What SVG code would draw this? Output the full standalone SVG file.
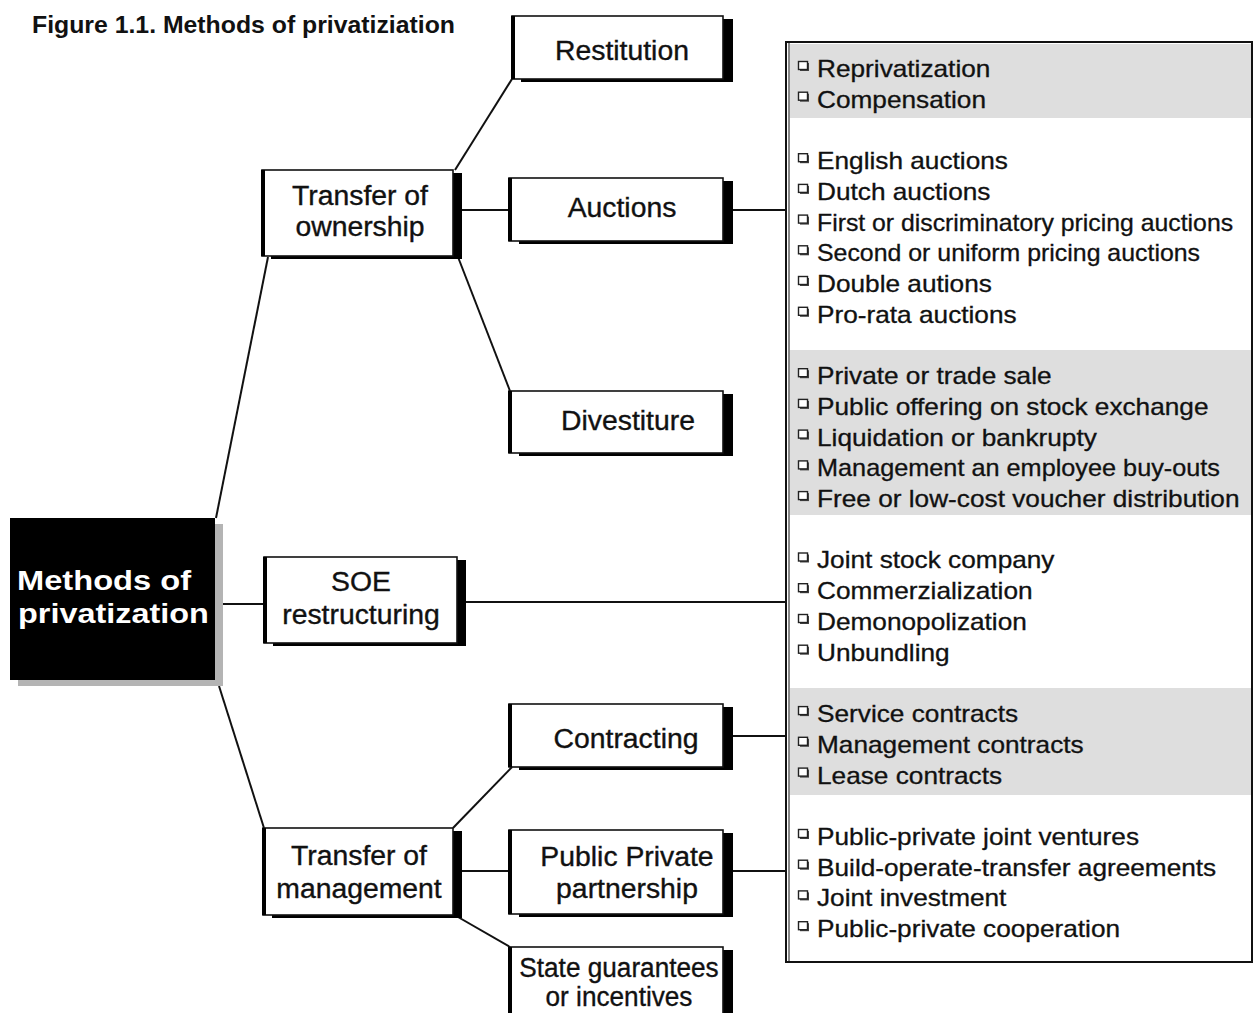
<svg xmlns="http://www.w3.org/2000/svg" xmlns:xlink="http://www.w3.org/1999/xlink" width="1256" height="1013" viewBox="0 0 1256 1013">
<defs>
<style>
text{font-family:"Liberation Sans",Arial,Helvetica,sans-serif;fill:#111}
.title{font-size:24.8px;font-weight:bold}
.root{font-size:27px;font-weight:bold;fill:#fff}
.nt{font-size:27px;text-anchor:middle;stroke:#111;stroke-width:0.35}
.it{font-size:23px;stroke:#111;stroke-width:0.3}
.box{fill:#fff;stroke:#111;stroke-width:1.6}
.sh{fill:#000}
.bar{fill:#000}
.band{fill:#dedede}
.conn line{stroke:#111;stroke-width:2}
.bul{fill:#fff;stroke:#222;stroke-width:1.4}
</style>
<g id="bullet"><rect x="1" y="1" width="9" height="8" fill="#444"/><rect class="bul" x="-0.5" y="-0.5" width="9" height="8"/></g>
</defs>
<rect width="1256" height="1013" fill="#fff"/>
<text class="title" x="32" y="33">Figure 1.1. Methods of privatiziation</text>

<g id="connectors" class="conn">
<line x1="216" y1="518" x2="268" y2="257"/>
<line x1="223" y1="604" x2="264" y2="604"/>
<line x1="219" y1="686" x2="264" y2="828"/>
<line x1="455" y1="170" x2="512" y2="79"/>
<line x1="461" y1="210" x2="509" y2="210"/>
<line x1="458" y1="257" x2="510" y2="391"/>
<line x1="733" y1="210" x2="786" y2="210"/>
<line x1="465" y1="602" x2="786" y2="602"/>
<line x1="453" y1="828" x2="512" y2="767"/>
<line x1="461" y1="871" x2="509" y2="871"/>
<line x1="458" y1="917" x2="510" y2="947"/>
<line x1="733" y1="736" x2="786" y2="736"/>
<line x1="733" y1="871" x2="786" y2="871"/>
</g>

<g id="root">
<rect x="18" y="524" width="205" height="162" fill="#b4b4b4"/>
<rect x="10" y="518" width="205" height="162" fill="#000"/>
<text class="root" transform="translate(17,590) scale(1.21,1)">Methods of</text>
<text class="root" transform="translate(18,623) scale(1.2,1)">privatization</text>
</g>

<g id="transfer-ownership">
<rect class="sh" x="271" y="173" width="191" height="86"/>
<rect class="box" x="262" y="170" width="191" height="86"/>
<rect class="bar" x="261" y="170" width="4" height="86"/>
<text class="nt" transform="translate(360,205) scale(1.05,1)">Transfer of</text>
<text class="nt" transform="translate(360,236) scale(1.05,1)">ownership</text>
</g>

<g id="soe">
<rect class="sh" x="273" y="560" width="193" height="86"/>
<rect class="box" x="264" y="557" width="193" height="86"/>
<rect class="bar" x="263" y="557" width="4" height="86"/>
<text class="nt" transform="translate(361,591) scale(1.05,1)">SOE</text>
<text class="nt" transform="translate(361,624) scale(1.05,1)">restructuring</text>
</g>

<g id="transfer-management">
<rect class="sh" x="272" y="831" width="190" height="87"/>
<rect class="box" x="263" y="828" width="190" height="87"/>
<rect class="bar" x="262" y="828" width="4" height="87"/>
<text class="nt" transform="translate(359,865) scale(1.05,1)">Transfer of</text>
<text class="nt" transform="translate(359,898) scale(1.05,1)">management</text>
</g>

<g id="restitution">
<rect class="sh" x="521" y="19" width="212" height="63"/>
<rect class="box" x="512" y="16" width="211" height="63"/>
<rect class="bar" x="511" y="16" width="4" height="63"/>
<text class="nt" transform="translate(622,60) scale(1.05,1)">Restitution</text>
</g>

<g id="auctions">
<rect class="sh" x="519" y="181" width="214" height="63"/>
<rect class="box" x="509" y="178" width="214" height="63"/>
<rect class="bar" x="508" y="178" width="4" height="63"/>
<text class="nt" transform="translate(622,217) scale(1.05,1)">Auctions</text>
</g>

<g id="divestiture">
<rect class="sh" x="519" y="394" width="214" height="62"/>
<rect class="box" x="509" y="391" width="214" height="62"/>
<rect class="bar" x="508" y="391" width="4" height="62"/>
<text class="nt" transform="translate(628,430) scale(1.05,1)">Divestiture</text>
</g>

<g id="contracting">
<rect class="sh" x="519" y="707" width="214" height="63"/>
<rect class="box" x="509" y="704" width="214" height="63"/>
<rect class="bar" x="508" y="704" width="4" height="63"/>
<text class="nt" transform="translate(626,748) scale(1.05,1)">Contracting</text>
</g>

<g id="ppp">
<rect class="sh" x="519" y="833" width="214" height="84"/>
<rect class="box" x="509" y="830" width="214" height="84"/>
<rect class="bar" x="508" y="830" width="4" height="84"/>
<text class="nt" transform="translate(627,866) scale(1.05,1)">Public Private</text>
<text class="nt" transform="translate(627,898) scale(1.05,1)">partnership</text>
</g>

<g id="state">
<rect class="sh" x="519" y="950" width="214" height="80"/>
<rect class="box" x="509" y="947" width="214" height="80"/>
<rect class="bar" x="508" y="947" width="4" height="80"/>
<text class="nt" transform="translate(619,977) scale(0.97,1)">State guarantees</text>
<text class="nt" transform="translate(619,1006) scale(0.97,1)">or incentives</text>
</g>

<g id="panel">
<rect x="786" y="42" width="466" height="920" fill="#fff" stroke="#111" stroke-width="2"/>
<line x1="789" y1="43" x2="789" y2="961" stroke="#111" stroke-width="1"/>
<rect class="band" x="790" y="44" width="461" height="74"/>
<rect class="band" x="790" y="350" width="461" height="165"/>
<rect class="band" x="790" y="688" width="461" height="107"/>
<g>
<use xlink:href="#bullet" x="799" y="62"/>
<use xlink:href="#bullet" x="799" y="92.7"/>
<use xlink:href="#bullet" x="799" y="154.2"/>
<use xlink:href="#bullet" x="799" y="184.9"/>
<use xlink:href="#bullet" x="799" y="215.6"/>
<use xlink:href="#bullet" x="799" y="246.3"/>
<use xlink:href="#bullet" x="799" y="277"/>
<use xlink:href="#bullet" x="799" y="307.8"/>
<use xlink:href="#bullet" x="799" y="369.2"/>
<use xlink:href="#bullet" x="799" y="399.9"/>
<use xlink:href="#bullet" x="799" y="430.6"/>
<use xlink:href="#bullet" x="799" y="461.4"/>
<use xlink:href="#bullet" x="799" y="492.1"/>
<use xlink:href="#bullet" x="799" y="553.5"/>
<use xlink:href="#bullet" x="799" y="584.2"/>
<use xlink:href="#bullet" x="799" y="615"/>
<use xlink:href="#bullet" x="799" y="645.7"/>
<use xlink:href="#bullet" x="799" y="707.1"/>
<use xlink:href="#bullet" x="799" y="737.8"/>
<use xlink:href="#bullet" x="799" y="768.6"/>
<use xlink:href="#bullet" x="799" y="830"/>
<use xlink:href="#bullet" x="799" y="860.7"/>
<use xlink:href="#bullet" x="799" y="891.4"/>
<use xlink:href="#bullet" x="799" y="922.2"/>
</g>
<g transform="translate(817,0) scale(1.14,1)">
<text class="it" x="0" y="77">Reprivatization</text>
<text class="it" x="0" y="107.7">Compensation</text>
<text class="it" x="0" y="169.2">English auctions</text>
<text class="it" x="0" y="199.9">Dutch auctions</text>
<text class="it" x="0" y="230.6" textLength="365" lengthAdjust="spacingAndGlyphs">First or discriminatory pricing auctions</text>
<text class="it" x="0" y="261.3" textLength="336" lengthAdjust="spacingAndGlyphs">Second or uniform pricing auctions</text>
<text class="it" x="0" y="292">Double autions</text>
<text class="it" x="0" y="322.8">Pro-rata auctions</text>
<text class="it" x="0" y="384.2">Private or trade sale</text>
<text class="it" x="0" y="414.9">Public offering on stock exchange</text>
<text class="it" x="0" y="445.6">Liquidation or bankrupty</text>
<text class="it" x="0" y="476.4" textLength="353.5" lengthAdjust="spacingAndGlyphs">Management an employee buy-outs</text>
<text class="it" x="0" y="507.1">Free or low-cost voucher distribution</text>
<text class="it" x="0" y="568.5">Joint stock company</text>
<text class="it" x="0" y="599.2">Commerzialization</text>
<text class="it" x="0" y="630">Demonopolization</text>
<text class="it" x="0" y="660.7">Unbundling</text>
<text class="it" x="0" y="722.1">Service contracts</text>
<text class="it" x="0" y="752.8">Management contracts</text>
<text class="it" x="0" y="783.6">Lease contracts</text>
<text class="it" x="0" y="845">Public-private joint ventures</text>
<text class="it" x="0" y="875.7">Build-operate-transfer agreements</text>
<text class="it" x="0" y="906.4">Joint investment</text>
<text class="it" x="0" y="937.2">Public-private cooperation</text>
</g>
</g>
</svg>
